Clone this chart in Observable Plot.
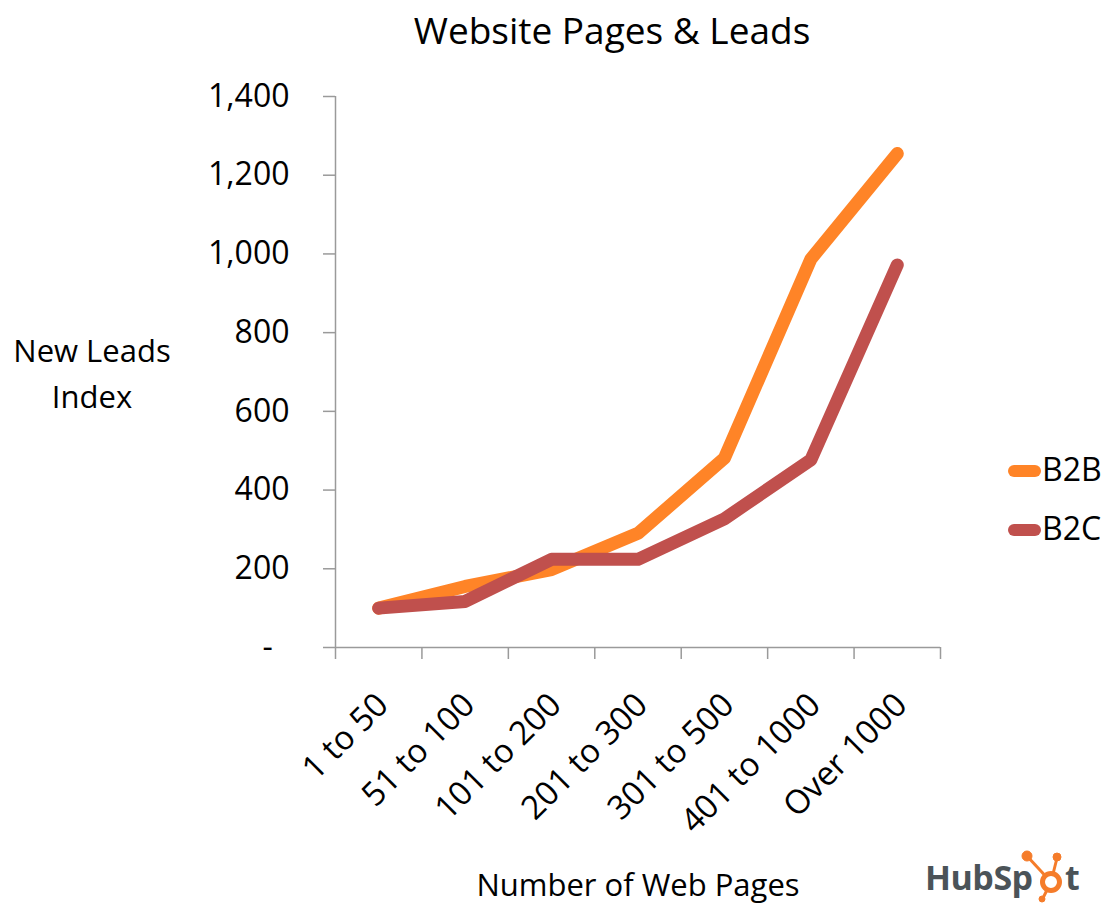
<!DOCTYPE html>
<html><head><meta charset="utf-8">
<script src="https://cdn.jsdelivr.net/npm/d3@7"></script>
<script src="https://cdn.jsdelivr.net/npm/@observablehq/plot@0.6"></script>
<style>
body{margin:0;background:#fff;font-family:"Open Sans",sans-serif;}
#wrap{position:relative;width:1103px;height:905px;overflow:hidden;background:#fff;}
.abs{position:absolute;color:#000;white-space:nowrap;}
#chart{position:absolute;left:0;top:0;}
</style></head><body>
<div id="wrap">
  <div id="chart"></div>
  <div class="abs" id="title" style="left:112px;width:1000px;text-align:center;top:8px;font-size:37px;line-height:44px;">Website Pages &amp; Leads</div>
  <div class="abs" id="ylabel" style="left:-8px;width:200px;text-align:center;top:327px;font-size:31px;line-height:46px;">New Leads<br>Index</div>
  <div class="abs" id="xlabel" style="left:338px;width:600px;text-align:center;top:866px;font-size:31px;line-height:36px;">Number of Web Pages</div>
  <div id="legend"></div>
  <div class="abs" id="logo" style="left:925px;top:848px;width:175px;height:55px;">
    <span style="position:absolute;left:0;top:9px;font-size:34px;line-height:40px;font-weight:700;color:#4b5358;letter-spacing:-0.5px;">HubSp</span>
    <svg style="position:absolute;left:0;top:0;" width="175" height="55">
      <g stroke="#f57c2a" fill="#f57c2a">
        <line x1="126" y1="34" x2="102" y2="8" stroke-width="3"/>
        <line x1="126" y1="34" x2="132" y2="10" stroke-width="3"/>
        <line x1="126" y1="34" x2="118" y2="50" stroke-width="3"/>
        <circle cx="102" cy="8" r="5"/>
        <circle cx="132" cy="9" r="4"/>
        <circle cx="117" cy="51" r="3"/>
        <circle cx="126" cy="34" r="8.5" fill="#fff" stroke-width="5"/>
      </g>
    </svg>
    <span style="position:absolute;left:140px;top:9px;font-size:34px;line-height:40px;font-weight:700;color:#4b5358;">t</span>
  </div>
</div>
<script>
const categories = ["1 to 50", "51 to 100", "101 to 200", "201 to 300", "301 to 500", "401 to 1000", "Over 1000"];
const b2b = [100, 155, 198, 290, 481, 987, 1255];
const b2c = [100, 117, 224, 224, 327, 477, 972];
const yTicks = [0, 200, 400, 600, 800, 1000, 1200, 1400];
const seriesNames = ["B2B", "B2C"];
const seriesColors = ["#FF8427", "#C0504D"];

const seriesValues = [b2b, b2c];
const data = [];
seriesNames.forEach((s, k) => {
  seriesValues[k].forEach((v, i) => data.push({series: s, i, cat: categories[i], value: v}));
});
const n = categories.length;
const boundaries = d3.range(n + 1).map(i => i - 0.5);
const axisColor = "#9a9a9a";

const chart = Plot.plot({
  width: 1103, height: 905,
  marginLeft: 335, marginRight: 163, marginTop: 96, marginBottom: 258,
  style: {fontFamily: '"Open Sans", sans-serif', fontSize: "32px", color: "#000", background: "transparent", overflow: "visible"},
  x: {domain: [-0.5, n - 0.5]},
  y: {domain: [0, 1400]},
  color: {domain: seriesNames, range: seriesColors},
  marks: [
    Plot.ruleY([0], {x1: -0.5, x2: n - 0.5, stroke: axisColor, strokeWidth: 1.5}),
    Plot.ruleX([-0.5], {y1: 0, y2: 1400, stroke: axisColor, strokeWidth: 1.5}),
    Plot.axisY({ticks: yTicks, tickSize: 12, tickPadding: 34, stroke: axisColor, strokeWidth: 1.5,
      tickFormat: d => d === 0 ? "-\u00a0\u00a0" : d3.format(",")(d), fontSize: 32, label: null}),
    Plot.axisX({ticks: boundaries, tickSize: 12, stroke: axisColor, strokeWidth: 1.5, tickFormat: () => "", label: null}),
    Plot.axisX({ticks: d3.range(n), tickSize: 0, tickRotate: -45, tickPadding: 52, dx: 4, fontSize: 33,
      tickFormat: i => categories[i], label: null}),
    Plot.line(data, {x: "i", y: "value", stroke: "series", strokeWidth: 13, strokeLinecap: "round", strokeLinejoin: "round"})
  ]
});
document.getElementById("chart").appendChild(chart);

const legend = document.getElementById("legend");
seriesNames.forEach((s, k) => {
  const top = [465, 524][k];
  const sw = document.createElement("div");
  sw.className = "abs";
  sw.style.cssText = `left:1008px;top:${top}px;width:33px;height:12px;border-radius:6px;background:${seriesColors[k]};`;
  legend.appendChild(sw);
  const t = document.createElement("div");
  t.className = "abs";
  t.style.cssText = `left:1042px;top:${top - 12}px;font-size:32px;line-height:32px;`;
  t.textContent = s;
  legend.appendChild(t);
});
</script>
</body></html>
